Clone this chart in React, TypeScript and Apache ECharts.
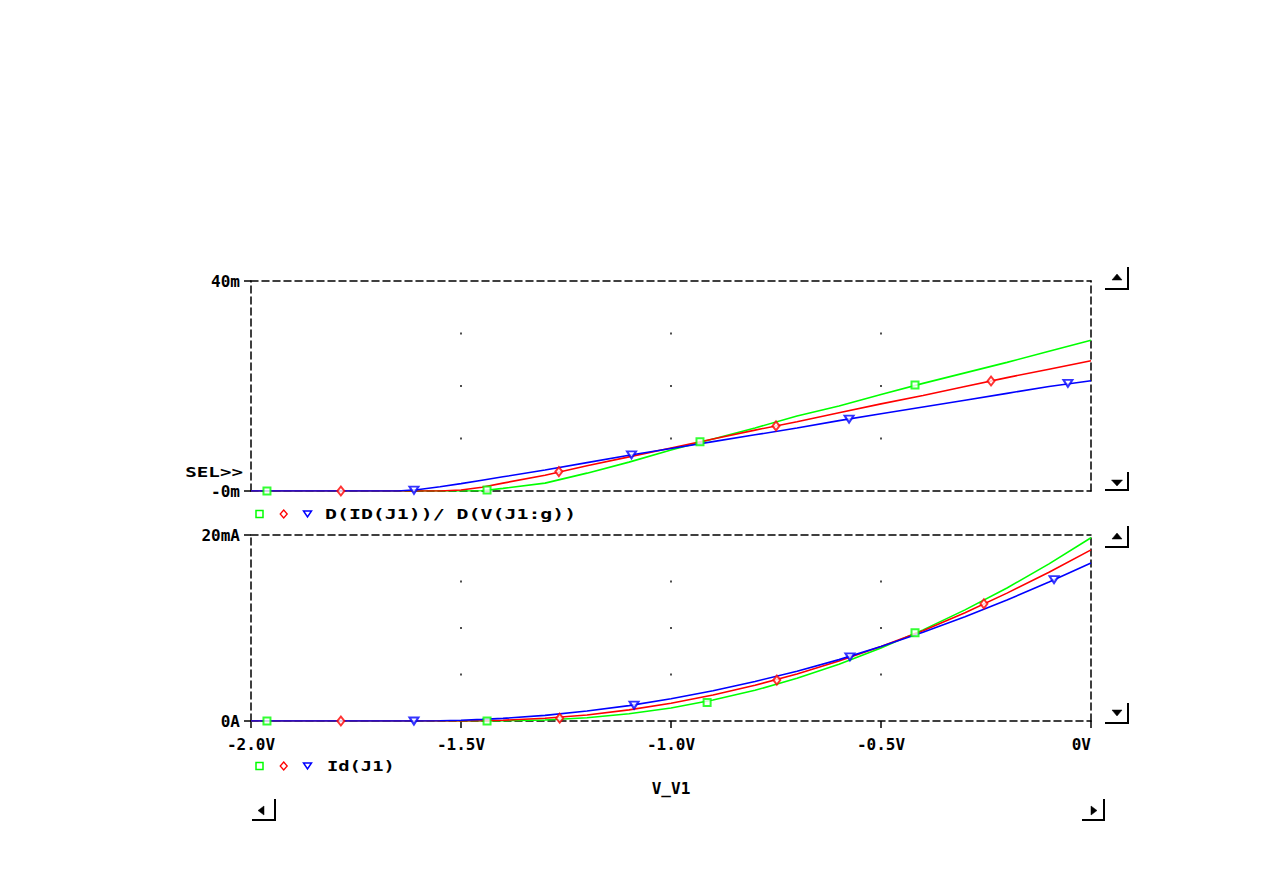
import React, { useEffect, useRef } from "react";
import * as echarts from "echarts";

// Sweep voltages (V_V1)
const V = [-2.0, -1.8, -1.7, -1.65, -1.6, -1.55, -1.5, -1.45, -1.4, -1.3, -1.2, -1.1, -1.0, -0.9, -0.8, -0.7, -0.6, -0.5, -0.4, -0.3, -0.2, -0.1, 0.0];

// D(ID(J1))/D(V(J1:g)) in mA/V (axis unit "m")
const gmGreen = [0, 0, 0, 0, 0, 0, 0, 0.05, 0.5, 1.5, 3.4, 5.5, 7.8, 9.9, 12.0, 14.3, 16.2, 18.4, 20.5, 22.5, 24.5, 26.6, 28.7];
const gmRed = [0, 0, 0, 0, 0, 0, 0.2, 0.7, 1.5, 3.0, 4.8, 6.5, 8.2, 9.9, 11.6, 13.2, 14.9, 16.6, 18.2, 19.9, 21.6, 23.2, 24.8];
const gmBlue = [0, 0, 0, 0, 0.3, 0.8, 1.4, 2.05, 2.7, 4.0, 5.4, 6.8, 8.1, 9.4, 10.7, 12.0, 13.4, 14.7, 16.0, 17.3, 18.6, 19.9, 21.0];

// Id(J1) in mA
const idGreen = [0, 0, 0, 0, 0, 0, 0, 0, 0.01, 0.1, 0.35, 0.78, 1.4, 2.25, 3.3, 4.6, 6.1, 7.85, 9.8, 11.95, 14.3, 16.9, 19.7];
const idRed = [0, 0, 0, 0, 0, 0, 0.005, 0.03, 0.08, 0.3, 0.65, 1.2, 1.9, 2.8, 3.85, 5.05, 6.45, 8.0, 9.7, 11.65, 13.75, 16.0, 18.4];
const idBlue = [0, 0, 0, 0, 0.005, 0.03, 0.08, 0.17, 0.28, 0.6, 1.07, 1.65, 2.4, 3.25, 4.25, 5.35, 6.6, 8.0, 9.55, 11.2, 13.0, 14.95, 17.0];

// Marker positions (voltage, value)
const gmGreenMkV = [-1.962, -1.438, -0.931, -0.419];
const gmGreenMk = [0, 0.2, 9.4, 20.2];
const gmRedMkV = [-1.786, -1.267, -0.75, -0.238];
const gmRedMk = [0, 3.7, 12.4, 20.95];
const gmBlueMkV = [-1.612, -1.094, -0.576, -0.055];
const gmBlueMk = [0.15, 6.9, 13.7, 20.5];

const idGreenMkV = [-1.962, -1.438, -0.914, -0.419];
const idGreenMk = [0, 0, 2.0, 9.5];
const idRedMkV = [-1.786, -1.265, -0.748, -0.255];
const idRedMk = [0, 0.3, 4.4, 12.6];
const idBlueMkV = [-1.612, -1.088, -0.574, -0.088];
const idBlueMk = [0, 1.7, 6.9, 15.2];

// Grid dots
const dotV = [-1.5, -1.0, -0.5];
const dotTop = [10, 20, 30];
const dotBottom = [5, 10, 15];

// Tick labels
const xTickValues = [-2.0, -1.5, -1.0, -0.5, 0];
const xTickLabels = ["-2.0V", "-1.5V", "-1.0V", "-0.5V", "0V"];
const topYLabels: Record<number, string> = { 0: "-0m", 40: "40m" };
const bottomYLabels: Record<number, string> = { 0: "0A", 20: "20mA" };

const GREEN = "#00ff00";
const RED = "#ff0000";
const BLUE = "#0000ff";
const FONT = "DejaVu Sans Mono";

const dash = { color: "#000", width: 1.5, type: [7, 4] as any };

function frameX(gridIndex: number, position: string) {
  return {
    gridIndex,
    type: "value",
    min: -2,
    max: 0,
    interval: 0.5,
    position,
    axisLine: { show: true, onZero: false, lineStyle: dash },
    axisTick: { show: false },
    axisLabel: { show: false },
    splitLine: { show: false },
  };
}

function frameY(gridIndex: number, max: number, position: string) {
  return {
    gridIndex,
    type: "value",
    min: 0,
    max,
    interval: max,
    position,
    axisLine: { show: true, onZero: false, lineStyle: dash },
    axisTick: { show: false },
    axisLabel: { show: false },
    splitLine: { show: false },
  };
}

const labelStyle = { fontFamily: FONT, fontWeight: "bold", fontSize: 16, color: "#000" };

function lineSeries(x: number, y: number, vals: number[], color: string) {
  return {
    type: "line",
    xAxisIndex: x,
    yAxisIndex: y,
    data: V.map((v, i) => [v, vals[i]]),
    showSymbol: false,
    lineStyle: { color, width: 1.6 },
    itemStyle: { color },
    silent: true,
  };
}

function markerSeries(x: number, y: number, vs: number[], vals: number[], color: string, symbol: string, size: any, rotate = 0) {
  return {
    type: "scatter",
    xAxisIndex: x,
    yAxisIndex: y,
    data: vs.map((v, i) => [v, vals[i]]),
    symbol,
    symbolSize: size,
    symbolRotate: rotate,
    itemStyle: { color, borderColor: color, borderWidth: 1.5 },
    silent: true,
    z: 5,
  };
}

function dotSeries(x: number, y: number, levels: number[]) {
  const data: number[][] = [];
  dotV.forEach((v) => levels.forEach((l) => data.push([v, l])));
  return {
    type: "scatter",
    xAxisIndex: x,
    yAxisIndex: y,
    data,
    symbol: "rect",
    symbolSize: 2,
    itemStyle: { color: "#222" },
    silent: true,
    z: 1,
  };
}

function text(x: number, y: number, t: string, align: string, scaleX: number) {
  return {
    type: "text",
    x,
    y,
    scaleX,
    style: { text: t, fontFamily: FONT, fontWeight: "bold", fontSize: 14, fill: "#000", align, verticalAlign: "middle" },
    silent: true,
  };
}

function lshape(pts: number[][]) {
  return { type: "polyline", shape: { points: pts }, style: { stroke: "#000", lineWidth: 2, fill: null }, silent: true };
}

function tri(pts: number[][]) {
  return { type: "polygon", shape: { points: pts }, style: { fill: "#000", stroke: "#000", lineWidth: 0.5 }, silent: true };
}

function legendIcons(cy: number) {
  return [
    { type: "rect", shape: { x: 256, y: cy - 3.5, width: 7, height: 7 }, style: { stroke: GREEN, fill: "#fff", lineWidth: 1.5 }, silent: true },
    { type: "polygon", shape: { points: [[283.7, cy - 4], [287.2, cy], [283.7, cy + 4], [280.2, cy]] }, style: { stroke: RED, fill: "#fff", lineWidth: 1.3 }, silent: true },
    { type: "polygon", shape: { points: [[303.5, cy - 3], [311.5, cy - 3], [307.5, cy + 3]] }, style: { stroke: BLUE, fill: "#fff", lineWidth: 1.5 }, silent: true },
  ];
}

export default function App() {
  const ref = useRef<HTMLDivElement>(null);

  useEffect(() => {
    if (!ref.current) return;
    const chart = echarts.init(ref.current, null, { renderer: "svg" });
    const option: any = {
      animation: false,
      backgroundColor: "#ffffff",
      grid: [
        { left: 251, top: 281, width: 840, height: 210 },
        { left: 251, top: 535, width: 840, height: 186 },
      ],
      xAxis: [
        frameX(0, "bottom"),
        frameX(0, "top"),
        {
          gridIndex: 1,
          type: "value",
          min: -2,
          max: 0,
          interval: 0.5,
          position: "bottom",
          axisLine: { show: true, onZero: false, lineStyle: dash },
          axisTick: { show: true, length: 7, inside: false, lineStyle: { color: "#000", width: 1.5, type: "solid" } },
          axisLabel: {
            show: true,
            margin: 15,
            ...labelStyle,
            alignMaxLabel: "right",
            formatter: (v: number) => {
              const i = xTickValues.findIndex((t) => Math.abs(t - v) < 1e-6);
              return i >= 0 ? xTickLabels[i] : "";
            },
          },
          splitLine: { show: false },
          name: "V_V1",
          nameLocation: "middle",
          nameGap: 59,
          nameTextStyle: { ...labelStyle },
        },
        frameX(1, "top"),
      ],
      yAxis: [
        {
          gridIndex: 0,
          type: "value",
          min: 0,
          max: 40,
          interval: 40,
          position: "left",
          axisLine: { show: true, onZero: false, lineStyle: dash },
          axisTick: { show: true, length: 7, inside: false, lineStyle: { color: "#000", width: 1.5, type: "solid" } },
          axisLabel: { show: true, margin: 11, ...labelStyle, formatter: (v: number) => topYLabels[v] ?? "" },
          splitLine: { show: false },
        },
        frameY(0, 40, "right"),
        {
          gridIndex: 1,
          type: "value",
          min: 0,
          max: 20,
          interval: 20,
          position: "left",
          axisLine: { show: true, onZero: false, lineStyle: dash },
          axisTick: { show: true, length: 7, inside: false, lineStyle: { color: "#000", width: 1.5, type: "solid" } },
          axisLabel: { show: true, margin: 11, ...labelStyle, formatter: (v: number) => bottomYLabels[v] ?? "" },
          splitLine: { show: false },
        },
        frameY(1, 20, "right"),
      ],
      series: [
        dotSeries(0, 0, dotTop),
        dotSeries(2, 2, dotBottom),
        lineSeries(0, 0, gmGreen, GREEN),
        lineSeries(0, 0, gmRed, RED),
        lineSeries(0, 0, gmBlue, BLUE),
        lineSeries(2, 2, idGreen, GREEN),
        lineSeries(2, 2, idRed, RED),
        lineSeries(2, 2, idBlue, BLUE),
        markerSeries(0, 0, gmGreenMkV, gmGreenMk, GREEN, "emptyRect", 7),
        markerSeries(0, 0, gmRedMkV, gmRedMk, RED, "emptyDiamond", [7, 9]),
        markerSeries(0, 0, gmBlueMkV, gmBlueMk, BLUE, "emptyTriangle", [9, 7], 180),
        markerSeries(2, 2, idGreenMkV, idGreenMk, GREEN, "emptyRect", 7),
        markerSeries(2, 2, idRedMkV, idRedMk, RED, "emptyDiamond", [7, 9]),
        markerSeries(2, 2, idBlueMkV, idBlueMk, BLUE, "emptyTriangle", [9, 7], 180),
      ],
      graphic: [
        text(243, 472, "SEL>>", "right", 1.37),
        text(325, 514, "D(ID(J1))/ D(V(J1:g))", "left", 1.42),
        text(327, 766, "Id(J1)", "left", 1.34),
        ...legendIcons(514),
        ...legendIcons(766),
        // right-side scroll buttons
        lshape([[1105, 289], [1128, 289], [1128, 267]]),
        tri([[1112, 280], [1122, 280], [1117, 274]]),
        lshape([[1105, 490], [1128, 490], [1128, 472]]),
        tri([[1111.5, 480], [1122.5, 480], [1117, 486]]),
        lshape([[1105, 547], [1128, 547], [1128, 526]]),
        tri([[1112, 539], [1122, 539], [1117, 533]]),
        lshape([[1105, 723], [1128, 723], [1128, 703]]),
        tri([[1112, 710], [1122, 710], [1117, 716]]),
        // bottom scroll buttons
        lshape([[252, 820], [275, 820], [275, 799]]),
        tri([[264, 806], [264, 815], [258, 810.5]]),
        lshape([[1082, 820], [1104, 820], [1104, 799]]),
        tri([[1091, 806], [1091, 815], [1097, 810.5]]),
      ],
    };
    chart.setOption(option);
    return () => chart.dispose();
  }, []);

  return <div ref={ref} style={{ position: "absolute", left: 0, top: 0, width: 1263, height: 893 }} />;
}
